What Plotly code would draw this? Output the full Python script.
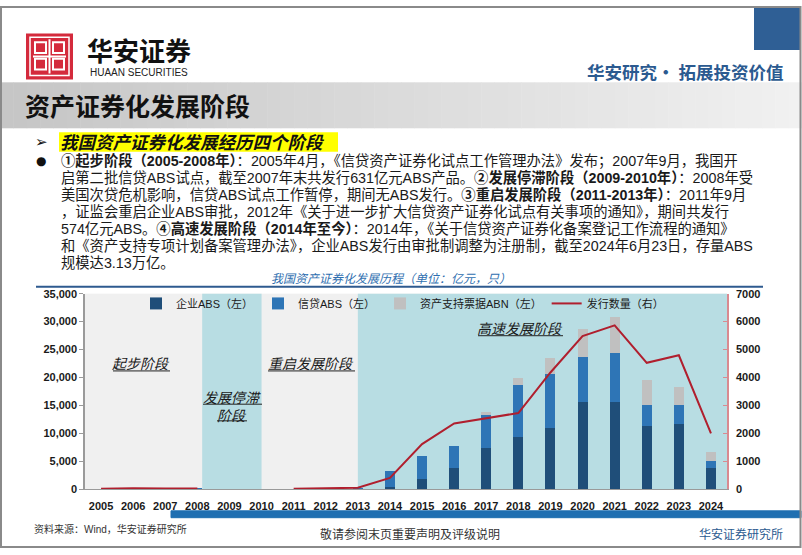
import plotly.graph_objects as go

W, H = 802, 555


def px(x):
    return x / W


def py(y):
    return 1 - y / H


# ---------------- data ----------------
years = [str(y) for y in range(2005, 2025)]
corp_abs = [0, 0, 0, 0, 0, 0, 0, 0, 0, 350, 1800, 3780, 7350, 9330, 10950, 15630, 15700, 11380, 11730, 3900]
credit_abs = [72, 116, 178, 302, 0, 0, 13, 193, 280, 2850, 4150, 3920, 5950, 9320, 9630, 8000, 8750, 3620, 3440, 1120]
abn = [0, 0, 0, 0, 0, 0, 0, 0, 0, 0, 0, 0, 600, 1300, 2870, 5070, 6450, 4550, 3210, 1630]
issue_count = [20, 40, 30, 30, None, None, 20, 50, 60, 410, 1620, 2355, 2540, 2730, 4180, 5485, 5865, 4525, 4795, 2005]

series_names = ["企业ABS（左）", "信贷ABS（左）", "资产支持票据ABN（左）", "发行数量（右）"]
left_ticks = [0, 5000, 10000, 15000, 20000, 25000, 30000, 35000]
right_ticks = [0, 1000, 2000, 3000, 4000, 5000, 6000, 7000]

para_lines = [
    "<b>①起步阶段（2005-2008年）</b>：2005年4月，《信贷资产证券化试点工作管理办法》发布；2007年9月，我国开",
    "启第二批信贷ABS试点，截至2007年末共发行631亿元ABS产品。<b>②发展停滞阶段（2009-2010年）</b>：2008年受",
    "美国次贷危机影响，信贷ABS试点工作暂停，期间无ABS发行。<b>③重启发展阶段（2011-2013年）</b>：2011年9月",
    "，证监会重启企业ABS审批，2012年《关于进一步扩大信贷资产证券化试点有关事项的通知》，期间共发行",
    "574亿元ABS。<b>④高速发展阶段（2014年至今）</b>：2014年，《关于信贷资产证券化备案登记工作流程的通知》",
    "和《资产支持专项计划备案管理办法》，企业ABS发行由审批制调整为注册制，截至2024年6月23日，存量ABS",
    "规模达3.13万亿。",
]

CJK = "Noto Sans CJK SC"
MIX = "Liberation Sans, Noto Sans CJK SC"
NUM = "Liberation Sans, Arial"

fig = go.Figure()
fig.add_trace(go.Bar(x=years, y=corp_abs, name=series_names[0], marker_color="#1f4e79", marker_line_width=0))
fig.add_trace(go.Bar(x=years, y=credit_abs, name=series_names[1], marker_color="#2e75b6", marker_line_width=0))
fig.add_trace(go.Bar(x=years, y=abn, name=series_names[2], marker_color="#c0c0c0", marker_line_width=0))
fig.add_trace(go.Scatter(x=years, y=issue_count, name=series_names[3], mode="lines",
                         line=dict(color="#b01f2e", width=2), yaxis="y2", connectgaps=False))

shapes = []
# gradient header band
n = 60
for i in range(n):
    t = i / (n - 1)
    c = int(198 + (241 - 198) * t)
    shapes.append(dict(type="rect", xref="paper", yref="paper",
                       x0=px(i * W / n), x1=px((i + 1) * W / n + 0.5), y0=py(125), y1=py(78),
                       fillcolor=f"rgb({c},{c},{c})", line_width=0, layer="below"))
# blue square top right
shapes.append(dict(type="rect", xref="paper", yref="paper", x0=px(754), x1=px(801), y0=py(45), y1=py(0),
                   fillcolor="#2f5f95", line_width=0))
# logo
shapes.append(dict(type="rect", xref="paper", yref="paper", x0=px(26), x1=px(73), y0=py(75), y1=py(28),
                   fillcolor="#d42a3c", line_width=0))
shapes.append(dict(type="rect", xref="paper", yref="paper", x0=px(30), x1=px(69), y0=py(71), y1=py(32),
                   line=dict(color="white", width=1.5)))
for (ax0, ay0) in [(35, 37), (53, 37), (35, 54), (53, 54)]:
    shapes.append(dict(type="rect", xref="paper", yref="paper", x0=px(ax0), x1=px(ax0 + 11),
                       y0=py(ay0 + 11), y1=py(ay0), line=dict(color="white", width=2)))
shapes.append(dict(type="line", xref="paper", yref="paper", x0=px(49.5), x1=px(49.5), y0=py(34), y1=py(69),
                   line=dict(color="white", width=2)))
shapes.append(dict(type="line", xref="paper", yref="paper", x0=px(33), x1=px(66), y0=py(51.5), y1=py(51.5),
                   line=dict(color="white", width=2)))
# yellow highlight
shapes.append(dict(type="rect", xref="paper", yref="paper", x0=px(59), x1=px(338), y0=py(149), y1=py(129),
                   fillcolor="#ffff00", line_width=0, layer="below"))
# chart title underline
shapes.append(dict(type="line", xref="paper", yref="paper", x0=px(36), x1=px(763), y0=py(287), y1=py(287),
                   line=dict(color="#2e5a8f", width=2)))
# stage bands (teal)
for x0, x1 in [(3.15, 5.0), (8.0, 19.5)]:
    shapes.append(dict(type="rect", xref="x", yref="paper", x0=x0, x1=x1, y0=py(494), y1=py(294),
                       fillcolor="#b8dde3", line_width=0, layer="below"))
# stage label underlines
for ux0, ux1, uy in [(113, 170, 373), (203, 262, 407), (217, 247, 424), (268, 355, 373), (478, 563, 337)]:
    shapes.append(dict(type="line", xref="paper", yref="paper", x0=px(ux0), x1=px(ux1), y0=py(uy), y1=py(uy),
                       line=dict(color="#222222", width=1)))
# footer blue bar
shapes.append(dict(type="rect", xref="paper", yref="paper", x0=px(171), x1=px(801), y0=py(523), y1=py(516),
                   fillcolor="#1f6fb1", line=dict(color="#1f6fb1", width=1), layer="above"))
# frame
shapes.append(dict(type="rect", xref="paper", yref="paper", x0=px(1), x1=px(800.5), y0=py(553), y1=py(1),
                   line=dict(color="#8a8a8a", width=2)))

ann = []


def add_text(x, y, text, size, color="#1a1a1a", family=CJK, xanchor="left", yanchor="middle"):
    ann.append(dict(x=px(x), y=py(y), xref="paper", yref="paper", text=text, showarrow=False,
                    xanchor=xanchor, yanchor=yanchor, borderpad=0,
                    font=dict(size=size, color=color, family=family)))


add_text(86, 44, "<b>华安证券</b>", 26, "#111111")
add_text(89, 68, "HUAAN SECURITIES", 10, "#222222", family="Liberation Sans, Arial")
add_text(784, 67, "<b>华安研究• 拓展投资价值</b>", 17.5, "#2b5a90", xanchor="right")
add_text(24, 101, "<b>资产证券化发展阶段</b>", 25, "#111111")
add_text(34, 139, "➢", 15, "#111111", family="DejaVu Sans")
add_text(59, 139, "<b><i>我国资产证券化发展经历四个阶段</i></b>", 17.5, "#111111")
add_text(35, 158, "●", 12, "#111111", family="DejaVu Sans")
for k, line in enumerate(para_lines):
    add_text(60, 158 + 17.4 * k, line, 14.3, "#1a1a1a", family=MIX)
add_text(391, 277, "<i>我国资产证券化发展历程（单位：亿元，只）</i>", 12, "#2f6fb0", xanchor="center")

add_text(141, 365, "<i>起步阶段</i>", 14, xanchor="center")
ann.append(dict(x=px(232), y=py(409), xref="paper", yref="paper",
                text="<i>发展停滞<br>阶段</i>", showarrow=False, borderpad=0,
                xanchor="center", yanchor="middle", font=dict(size=14, color="#1a1a1a", family=CJK)))
add_text(311, 365, "<i>重启发展阶段</i>", 14, xanchor="center")
add_text(520, 329, "<i>高速发展阶段</i>", 14, xanchor="center")

add_text(33, 535, "资料来源：Wind，华安证券研究所", 10, "#333333", family=MIX)
add_text(410, 539, "敬请参阅末页重要声明及评级说明", 12, "#333333", xanchor="center")
add_text(784, 539, "华安证券研究所", 12, "#2b5a90", xanchor="right")

tickfont = dict(family=NUM, size=11, color="#1a1a1a", weight="bold")

fig.update_layout(
    width=W, height=H, margin=dict(l=0, r=0, t=0, b=0),
    paper_bgcolor="white", plot_bgcolor="#f0f0f0",
    barmode="stack", bargap=0.69,
    showlegend=True,
    legend=dict(orientation="h", x=px(136), y=py(304), xanchor="left", yanchor="middle",
                bgcolor="rgba(0,0,0,0)", font=dict(family=MIX, size=11, color="#1a1a1a"),
                itemwidth=30, traceorder="normal"),
    xaxis=dict(domain=[px(85), px(727)], type="category", range=[-0.5, 19.5],
               showline=True, linecolor="#9a9a9a", linewidth=1, ticks="", tickfont=tickfont,
               ticklabelstandoff=6, showgrid=False, zeroline=False),
    yaxis=dict(domain=[py(494), py(294)], range=[0, 35000], tickvals=left_ticks, tickformat=",",
               showgrid=False, showline=True, linecolor="#9a9a9a", linewidth=1.5,
               ticks="outside", ticklen=4, tickcolor="#9a9a9a", tickfont=tickfont, zeroline=False),
    yaxis2=dict(overlaying="y", side="right", anchor="x", range=[0, 7000], tickvals=right_ticks,
                showgrid=False, showline=True, linecolor="#d98a90", linewidth=1.5,
                ticks="inside", ticklen=4, tickcolor="#d98a90", tickfont=tickfont, zeroline=False,
                ticklabelstandoff=5),
    shapes=shapes, annotations=ann,
)

fig.write_html(
    "out.html",
    config={"displayModeBar": False},
    post_script=(
        "document.documentElement.style.margin='0';document.body.style.margin='0';"
        "document.body.style.padding='0';document.documentElement.style.overflow='hidden';"
        "var gd=document.querySelector('.plotly-graph-div');"
        "gd.style.position='fixed';gd.style.left='0px';gd.style.top='0px';"
    ),
)
